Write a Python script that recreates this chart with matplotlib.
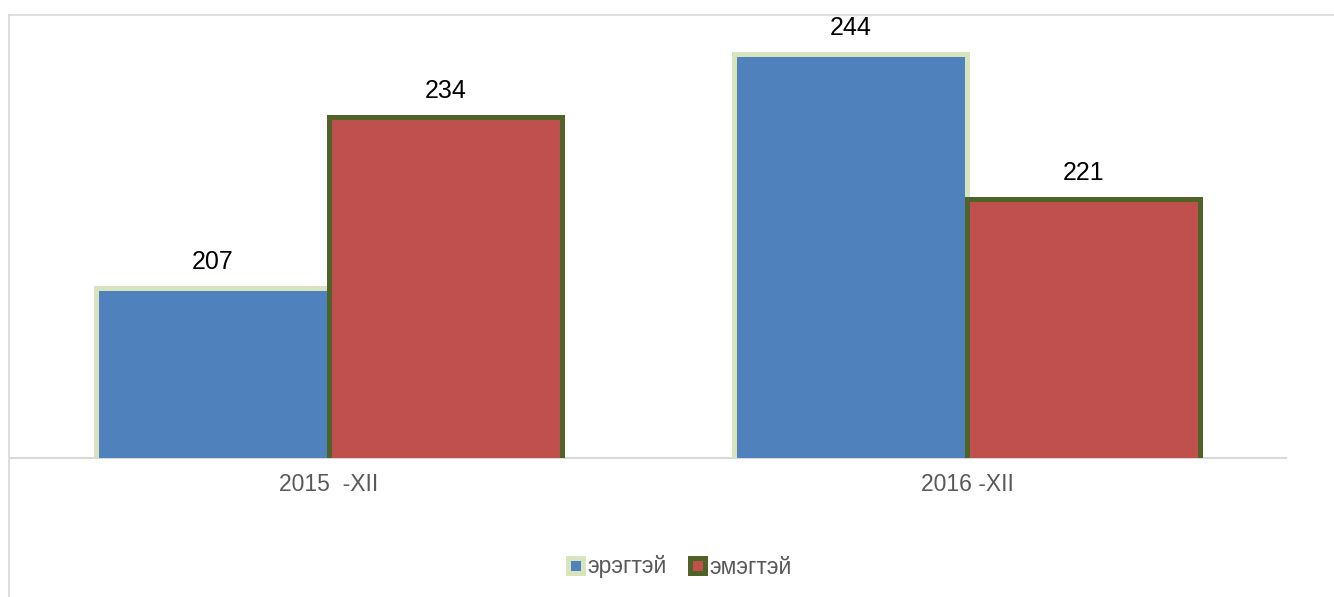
import matplotlib
matplotlib.use("Agg")
import matplotlib.pyplot as plt
import numpy as np
from matplotlib.lines import Line2D

categories = ["2015  -XII", "2016 -XII"]
series_names = ["эрэгтэй", "эмэгтэй"]
male = [207, 244]
female = [234, 221]

plt.rcParams['font.family'] = ['Liberation Sans', 'DejaVu Sans']

W, H = 1334, 597
fig = plt.figure(figsize=(W / 100, H / 100), dpi=100)
ax = fig.add_axes([10 / W, (H - 458) / H, (1286 - 10) / W, (458 - 16) / H])

x = np.arange(len(categories))
bw = 0.365
b1 = ax.bar(x - bw / 2, male, bw, color="#4f81bd", edgecolor="#d7e4bd",
            linewidth=3.6, label=series_names[0], zorder=2)
b2 = ax.bar(x + bw / 2, female, bw, color="#c0504d", edgecolor="#4f6228",
            linewidth=3.6, label=series_names[1], zorder=3)

for bars, vals in ((b1, male), (b2, female)):
    for r, v in zip(bars, vals):
        ax.annotate(str(v), (r.get_x() + r.get_width() / 2, v),
                    xytext=(0, 10), textcoords="offset points",
                    ha="center", va="bottom", fontsize=18, color="black")

ax.set_xlim(-0.5, 1.5)
ax.set_ylim(180, 250)
ax.set_xticks(x)
ax.set_xticklabels(categories, fontsize=16.5, color="#595959")
ax.tick_params(axis="x", length=0, pad=11)
ax.set_yticks([])
for s in ("top", "right", "left"):
    ax.spines[s].set_visible(False)
ax.spines["bottom"].set_color("#d9d9d9")
ax.spines["bottom"].set_linewidth(1.5)
ax.spines["bottom"].set_zorder(1)

leg = fig.legend(handles=[b1, b2], labels=series_names, loc="center",
                 bbox_to_anchor=(680 / W, 1 - 567 / H), ncol=2, frameon=False,
                 fontsize=16.5, handlelength=0.65, handleheight=0.65,
                 handletextpad=0.2, columnspacing=1.0, labelcolor="#595959")

# outer chart border (top and left visible)
fig.add_artist(Line2D([8.5 / W, 1.0], [1 - 14.5 / H, 1 - 14.5 / H],
                      transform=fig.transFigure, color="#d9d9d9", linewidth=1.2))
fig.add_artist(Line2D([8.5 / W, 8.5 / W], [0, 1 - 14.5 / H],
                      transform=fig.transFigure, color="#d9d9d9", linewidth=1.2))

fig.savefig("out.png", dpi=100)
